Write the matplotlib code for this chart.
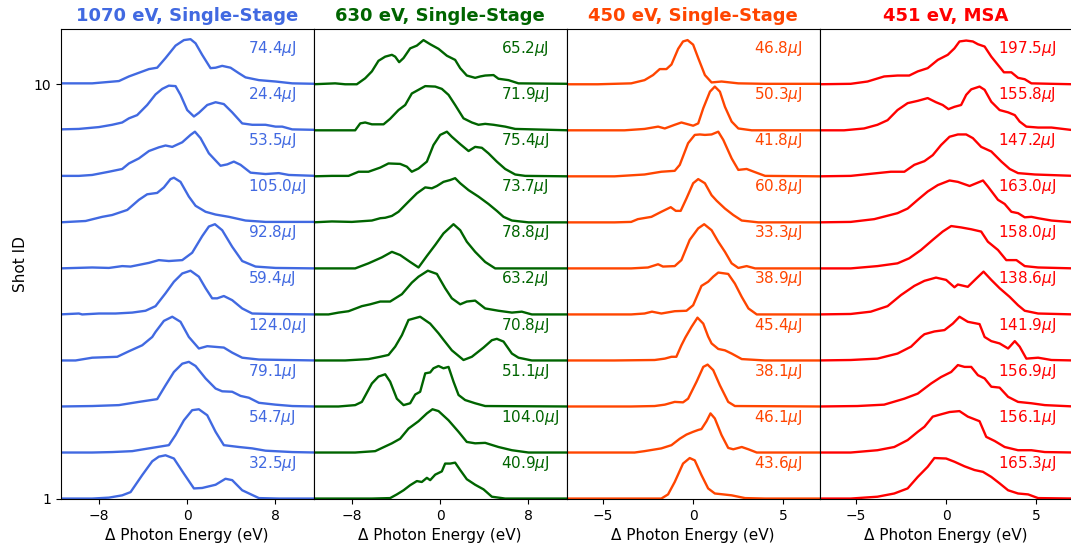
import matplotlib
matplotlib.use("Agg")
import matplotlib.pyplot as plt
import matplotlib.transforms as mtransforms

titles = ["1070 eV, Single-Stage", "630 eV, Single-Stage", "450 eV, Single-Stage", "451 eV, MSA"]
colors = ["royalblue", "darkgreen", "orangered", "red"]
x_limits = [(-11.5, 11.5), (-11.5, 11.5), (-7.0, 7.0), (-7.0, 7.0)]
x_ticks = [[-8, 0, 8], [-8, 0, 8], [-5, 0, 5], [-5, 0, 5]]
shot_ids = [1, 2, 3, 4, 5, 6, 7, 8, 9, 10]

# Pulse energies in uJ, shot 1 -> shot 10
pulse_1070 = [32.5, 54.7, 79.1, 124.0, 59.4, 92.8, 105.0, 53.5, 24.4, 74.4]
pulse_630 = [40.9, 104.0, 51.1, 70.8, 63.2, 78.8, 73.7, 75.4, 71.9, 65.2]
pulse_450 = [43.6, 46.1, 38.1, 45.4, 38.9, 33.3, 60.8, 41.8, 50.3, 46.8]
pulse_451 = [165.3, 156.1, 156.9, 141.9, 138.6, 158.0, 163.0, 147.2, 155.8, 197.5]

# ---- 1070 eV single-stage spectra (photon energy offset in eV, normalised intensity) ----
energy_1070 = [
    [-11.6, -8.64, -7.12, -5.91, -5.15, -4.09, -3.18, -2.58, -1.97, -1.21, -0.30, 0.61, 1.36, 2.58, 3.48, 4.09, 5.00, 6.52, 8.33, 11.7],
    [-11.6, -8.64, -6.82, -5.00, -3.48, -1.67, -1.06, -0.30, 0.45, 1.06, 1.82, 2.58, 3.33, 4.70, 5.91, 7.12, 9.55, 11.7],
    [-11.6, -8.64, -6.21, -4.39, -2.73, -1.97, -1.21, -0.45, 0.15, 0.76, 1.67, 2.58, 3.18, 4.09, 4.85, 5.61, 6.52, 8.03, 9.55, 11.7],
    [-11.6, -10.15, -8.64, -6.36, -5.30, -4.09, -3.18, -2.88, -2.12, -1.36, -0.61, 0.15, 1.06, 1.82, 3.33, 4.09, 5.00, 6.52, 11.7],
    [-11.6, -9.85, -9.55, -8.03, -6.52, -5.00, -3.79, -2.88, -1.97, -1.21, -0.45, 0.30, 1.06, 1.67, 2.27, 2.73, 3.33, 4.09, 5.00, 5.91, 7.73, 11.7],
    [-11.6, -8.64, -7.12, -5.91, -5.15, -3.48, -2.58, -1.67, -0.45, 0.45, 1.36, 1.97, 2.52, 3.18, 4.09, 5.00, 6.21, 8.03, 11.7],
    [-11.6, -9.24, -7.73, -6.82, -5.45, -4.39, -3.64, -2.73, -2.12, -1.52, -1.21, -0.61, 0.15, 0.76, 1.67, 2.58, 3.79, 5.30, 7.12, 11.7],
    [-11.6, -9.85, -8.64, -7.12, -5.91, -5.30, -4.39, -3.48, -2.58, -1.97, -1.36, -0.45, 0.30, 0.70, 1.21, 1.97, 3.03, 3.64, 4.24, 4.85, 5.76, 7.12, 8.33, 9.24, 11.7],
    [-11.6, -9.85, -8.03, -6.82, -5.91, -5.30, -4.55, -3.64, -2.88, -2.27, -1.67, -1.06, -0.61, 0.00, 0.61, 1.06, 1.82, 2.58, 3.33, 4.09, 5.00, 5.91, 7.12, 8.03, 8.64, 9.55, 11.7],
    [-11.6, -8.64, -6.21, -5.30, -4.39, -3.48, -2.73, -1.97, -1.06, -0.30, 0.30, 0.76, 1.36, 2.12, 2.58, 3.18, 3.94, 4.70, 5.30, 6.52, 8.03, 9.55, 11.7],
]
intensity_1070 = [
    [0, 0, 0.02, 0.07, 0.14, 0.51, 0.81, 0.91, 0.94, 0.87, 0.54, 0.22, 0.23, 0.30, 0.43, 0.40, 0.18, 0.01, 0, 0],
    [0, 0, 0.01, 0.03, 0.09, 0.16, 0.38, 0.70, 0.92, 0.94, 0.81, 0.45, 0.16, 0.12, 0.09, 0.04, 0.01, 0],
    [0, 0.01, 0.03, 0.10, 0.16, 0.46, 0.75, 0.93, 0.97, 0.88, 0.61, 0.39, 0.33, 0.32, 0.23, 0.19, 0.08, 0.04, 0.01, 0],
    [0, 0, 0.06, 0.08, 0.20, 0.33, 0.51, 0.62, 0.86, 0.95, 0.84, 0.51, 0.26, 0.31, 0.28, 0.17, 0.06, 0.02, 0],
    [0, 0.02, 0, 0.02, 0.02, 0.04, 0.08, 0.18, 0.46, 0.71, 0.89, 0.95, 0.82, 0.57, 0.35, 0.35, 0.40, 0.31, 0.13, 0.02, 0.01, 0],
    [0, 0.02, 0.01, 0.05, 0.04, 0.12, 0.18, 0.16, 0.18, 0.34, 0.70, 0.91, 0.96, 0.83, 0.47, 0.16, 0.04, 0.01, 0],
    [0, 0.03, 0.12, 0.16, 0.27, 0.49, 0.61, 0.64, 0.76, 0.94, 0.97, 0.88, 0.56, 0.36, 0.23, 0.17, 0.12, 0.04, 0.01, 0.01],
    [0.01, 0.01, 0.03, 0.10, 0.16, 0.28, 0.39, 0.55, 0.63, 0.67, 0.64, 0.74, 0.90, 0.97, 0.83, 0.50, 0.23, 0.26, 0.32, 0.25, 0.08, 0.05, 0.07, 0.03, 0.01],
    [0.02, 0.03, 0.07, 0.12, 0.17, 0.26, 0.33, 0.55, 0.78, 0.90, 0.97, 0.96, 0.77, 0.44, 0.30, 0.38, 0.55, 0.61, 0.57, 0.39, 0.15, 0.12, 0.12, 0.08, 0.08, 0.02, 0.01],
    [0.02, 0.02, 0.07, 0.17, 0.25, 0.33, 0.36, 0.57, 0.84, 0.96, 0.98, 0.89, 0.64, 0.35, 0.36, 0.40, 0.36, 0.24, 0.15, 0.09, 0.06, 0.02, 0.01],
]

# ---- 630 eV single-stage spectra ----
energy_630 = [
    [-11.6, -8.03, -6.21, -4.55, -3.94, -3.33, -2.73, -2.12, -1.67, -1.21, -0.91, -0.45, 0.15, 0.45, 0.91, 1.36, 1.82, 2.42, 3.18, 3.94, 4.70, 5.91, 11.7],
    [-11.6, -7.73, -5.91, -4.39, -3.64, -2.88, -1.97, -1.21, -0.70, -0.15, 0.76, 1.67, 2.42, 3.18, 4.09, 5.30, 6.52, 8.03, 11.7],
    [-11.6, -9.24, -7.73, -7.12, -6.21, -5.61, -5.00, -4.55, -3.94, -3.33, -2.73, -2.27, -1.82, -1.36, -0.91, -0.61, -0.15, 0.30, 0.76, 1.21, 1.67, 2.27, 3.18, 4.09, 11.7],
    [-11.6, -8.64, -6.52, -5.45, -4.70, -4.09, -3.48, -2.88, -1.82, -0.91, -0.15, 0.30, 1.06, 2.12, 2.88, 3.94, 4.70, 5.15, 5.76, 6.52, 7.12, 8.33, 11.7],
    [-11.6, -10.15, -9.24, -8.33, -7.12, -6.36, -5.45, -4.55, -3.48, -2.58, -1.97, -1.12, -0.30, 0.45, 1.06, 1.82, 2.42, 3.18, 4.09, 5.30, 6.52, 7.42, 8.33, 11.7],
    [-11.6, -9.24, -7.73, -6.52, -5.30, -4.39, -3.64, -2.73, -1.97, -1.21, -0.45, 0.30, 1.21, 1.82, 2.42, 3.18, 4.09, 5.00, 6.52, 11.7],
    [-11.6, -9.85, -8.03, -6.21, -5.45, -5.00, -4.39, -3.79, -2.88, -2.12, -1.36, -0.76, -0.30, 0.30, 0.91, 1.36, 1.82, 2.58, 3.48, 4.39, 5.15, 5.76, 6.52, 8.03, 11.7],
    [-11.6, -9.85, -8.33, -7.42, -6.52, -5.45, -4.70, -3.64, -3.03, -2.58, -1.97, -1.21, -0.61, 0.00, 0.61, 1.06, 1.82, 2.58, 3.18, 3.79, 4.39, 5.15, 5.91, 6.82, 7.73, 11.7],
    [-11.6, -7.73, -7.27, -6.82, -6.21, -5.15, -4.55, -3.79, -3.18, -2.58, -1.97, -1.36, -0.45, 0.15, 0.76, 1.36, 2.12, 2.88, 3.48, 4.09, 4.85, 5.91, 6.82, 11.7],
    [-11.6, -9.55, -8.64, -7.58, -6.82, -6.21, -5.61, -5.00, -4.39, -4.09, -3.73, -3.33, -2.73, -2.12, -1.52, -0.91, -0.15, 0.61, 1.36, 1.82, 2.42, 3.18, 3.64, 4.09, 4.85, 5.30, 6.21, 7.12, 11.7],
]
intensity_630 = [
    [0, 0, 0, 0.01, 0.09, 0.18, 0.29, 0.38, 0.36, 0.45, 0.40, 0.52, 0.59, 0.76, 0.76, 0.78, 0.62, 0.42, 0.30, 0.20, 0.04, 0, 0],
    [0, 0, 0.03, 0.20, 0.30, 0.52, 0.68, 0.85, 0.94, 0.90, 0.70, 0.45, 0.23, 0.20, 0.21, 0.12, 0.05, 0, 0],
    [0, 0, 0.03, 0.10, 0.50, 0.65, 0.70, 0.54, 0.17, 0.03, 0.07, 0.26, 0.32, 0.72, 0.74, 0.83, 0.88, 0.83, 0.86, 0.54, 0.25, 0.14, 0.07, 0.01, 0],
    [0, 0, 0.03, 0.08, 0.12, 0.30, 0.55, 0.88, 0.95, 0.80, 0.59, 0.45, 0.22, 0.01, 0.08, 0.28, 0.44, 0.47, 0.41, 0.15, 0.06, 0, 0],
    [0, 0, 0.04, 0.07, 0.18, 0.22, 0.28, 0.28, 0.44, 0.69, 0.82, 0.95, 0.88, 0.57, 0.35, 0.22, 0.28, 0.30, 0.13, 0.08, 0.04, 0.06, 0, 0],
    [0, 0, 0, 0.11, 0.24, 0.36, 0.29, 0.14, 0.02, 0.27, 0.51, 0.76, 0.96, 0.83, 0.58, 0.36, 0.14, 0, 0, 0],
    [0, 0.02, 0.01, 0.04, 0.09, 0.10, 0.14, 0.23, 0.45, 0.63, 0.76, 0.74, 0.79, 0.88, 0.92, 0.96, 0.85, 0.70, 0.56, 0.40, 0.25, 0.12, 0.04, 0, 0],
    [0, 0.01, 0.01, 0.10, 0.10, 0.19, 0.28, 0.27, 0.21, 0.10, 0.17, 0.32, 0.68, 0.90, 0.97, 0.86, 0.70, 0.55, 0.64, 0.62, 0.50, 0.32, 0.16, 0.04, 0.01, 0],
    [0, 0, 0.15, 0.17, 0.13, 0.13, 0.25, 0.44, 0.55, 0.80, 0.88, 0.96, 0.95, 0.90, 0.77, 0.55, 0.26, 0.17, 0.12, 0.14, 0.12, 0.08, 0.03, 0],
    [0, 0.02, 0, 0, 0.13, 0.28, 0.51, 0.60, 0.64, 0.60, 0.48, 0.57, 0.78, 0.84, 0.96, 0.87, 0.77, 0.62, 0.53, 0.35, 0.19, 0.14, 0.17, 0.19, 0.20, 0.12, 0.09, 0.02, 0.01],
]

# ---- 450 eV single-stage spectra ----
energy_450 = [
    [-7.1, -3.43, -1.76, -1.39, -1.02, -0.56, -0.19, 0.09, 0.46, 0.83, 1.20, 1.67, 2.13, 2.87, 3.98, 7.1],
    [-7.1, -4.35, -3.24, -2.69, -1.76, -1.20, -0.74, -0.37, 0.00, 0.28, 0.46, 0.74, 0.96, 1.20, 1.57, 1.94, 2.22, 2.69, 3.06, 3.52, 7.1],
    [-7.1, -3.43, -2.13, -1.57, -1.02, -0.56, -0.28, 0.19, 0.56, 0.80, 1.11, 1.48, 1.94, 2.31, 7.1],
    [-7.1, -4.35, -2.13, -1.57, -1.20, -0.93, -0.65, -0.43, -0.09, 0.24, 0.56, 0.83, 1.02, 1.39, 1.76, 2.13, 2.69, 3.98, 7.1],
    [-7.1, -3.43, -2.69, -2.28, -1.76, -1.02, -0.37, 0.00, 0.46, 0.83, 1.11, 1.39, 1.94, 2.31, 2.69, 3.06, 3.52, 7.1],
    [-7.1, -3.43, -2.50, -1.94, -1.67, -1.02, -0.65, -0.19, 0.28, 0.61, 1.02, 1.39, 1.76, 2.13, 2.50, 2.96, 3.43, 7.1],
    [-7.1, -4.35, -3.43, -3.06, -2.31, -1.76, -1.24, -0.96, -0.69, -0.37, 0.00, 0.28, 0.65, 1.02, 1.30, 1.76, 2.22, 2.69, 3.61, 7.1],
    [-7.1, -4.35, -2.69, -1.76, -1.02, -0.74, -0.28, 0.09, 0.37, 0.65, 1.02, 1.39, 1.67, 2.13, 2.50, 2.96, 3.43, 3.98, 7.1],
    [-7.1, -3.80, -2.69, -1.94, -1.57, -1.02, -0.65, -0.28, 0.00, 0.28, 0.56, 0.93, 1.20, 1.48, 1.76, 2.13, 2.50, 3.24, 7.1],
    [-7.1, -5.28, -3.43, -2.69, -2.22, -1.85, -1.48, -1.20, -0.83, -0.56, -0.31, 0.00, 0.28, 0.65, 1.02, 1.57, 2.50, 3.98, 7.1],
]
intensity_450 = [
    [0, 0, 0, 0.09, 0.36, 0.76, 0.88, 0.83, 0.51, 0.22, 0.11, 0.09, 0.07, 0.01, 0, 0],
    [0, 0, 0, 0.03, 0.09, 0.16, 0.30, 0.39, 0.45, 0.49, 0.51, 0.68, 0.85, 0.74, 0.38, 0.10, 0.07, 0.12, 0.07, 0, 0],
    [0, 0, 0.01, 0.04, 0.10, 0.09, 0.17, 0.54, 0.86, 0.91, 0.79, 0.46, 0.10, 0.01, 0],
    [0, 0, 0.01, 0.04, 0.08, 0.08, 0.33, 0.50, 0.73, 0.93, 0.80, 0.52, 0.37, 0.25, 0.22, 0.15, 0.03, 0, 0],
    [0, 0, 0.02, 0.06, 0.02, 0.07, 0.08, 0.20, 0.62, 0.71, 0.82, 0.91, 0.88, 0.67, 0.38, 0.13, 0, 0],
    [0, 0, 0.02, 0.09, 0.04, 0.05, 0.18, 0.62, 0.87, 0.96, 0.83, 0.58, 0.36, 0.11, 0.01, 0.05, 0, 0],
    [0, 0, 0.01, 0.07, 0.12, 0.23, 0.33, 0.25, 0.25, 0.52, 0.85, 0.94, 0.85, 0.59, 0.47, 0.30, 0.16, 0.04, 0, 0],
    [0, 0, 0.04, 0.10, 0.12, 0.25, 0.72, 0.90, 0.91, 0.90, 0.91, 0.97, 0.79, 0.39, 0.14, 0.16, 0.09, 0.01, 0],
    [0, 0, 0.03, 0.08, 0.04, 0.12, 0.17, 0.13, 0.10, 0.15, 0.48, 0.84, 0.95, 0.84, 0.51, 0.19, 0.04, 0, 0],
    [0, 0, 0.02, 0.09, 0.20, 0.33, 0.33, 0.43, 0.77, 0.93, 0.96, 0.86, 0.57, 0.20, 0.04, 0.06, 0.02, 0.01, 0.01],
]

# ---- 451 eV MSA spectra ----
energy_451 = [
    [-7.1, -5.28, -3.80, -2.87, -2.13, -1.57, -1.02, -0.65, 0.00, 0.46, 1.02, 1.57, 2.04, 2.50, 2.96, 3.43, 3.98, 4.54, 5.09, 7.1],
    [-7.1, -5.28, -3.80, -2.87, -2.13, -1.57, -1.20, -0.74, -0.28, 0.19, 0.74, 1.20, 1.85, 2.22, 2.69, 3.24, 3.98, 4.72, 5.46, 7.1],
    [-7.1, -4.91, -3.43, -2.31, -1.57, -0.83, -0.28, 0.28, 0.65, 1.02, 1.39, 1.76, 2.13, 2.50, 2.96, 3.43, 3.98, 4.72, 5.46, 7.1],
    [-7.1, -5.28, -3.80, -2.69, -1.94, -1.39, -1.20, -0.65, -0.09, 0.37, 0.74, 1.20, 1.85, 2.13, 2.50, 2.96, 3.43, 3.80, 4.07, 4.44, 5.09, 5.83, 7.1],
    [-7.1, -5.28, -4.17, -3.24, -2.50, -1.76, -1.20, -0.56, 0.00, 0.46, 0.65, 1.20, 1.67, 2.07, 2.50, 2.96, 3.52, 3.98, 4.35, 5.09, 7.1],
    [-7.1, -5.28, -3.80, -2.69, -2.04, -1.39, -0.74, -0.19, 0.28, 0.83, 1.39, 1.94, 2.31, 2.87, 3.33, 3.89, 4.35, 5.09, 7.1],
    [-7.1, -5.28, -3.98, -2.69, -2.13, -1.57, -1.02, -0.46, 0.19, 0.65, 1.30, 1.67, 2.04, 2.31, 2.87, 3.24, 3.61, 3.98, 4.35, 4.72, 5.09, 5.83, 7.1],
    [-7.1, -5.28, -3.80, -3.06, -2.31, -1.76, -1.20, -0.74, -0.28, 0.19, 0.65, 1.11, 1.48, 1.94, 2.50, 3.06, 3.52, 3.98, 4.91, 7.1],
    [-7.1, -5.65, -4.54, -3.80, -3.24, -2.69, -2.13, -1.57, -1.02, -0.56, -0.19, 0.13, 0.46, 0.83, 1.11, 1.39, 1.85, 2.13, 2.50, 2.96, 3.43, 3.80, 4.07, 4.44, 5.09, 5.83, 7.1],
    [-7.1, -5.28, -4.35, -3.43, -2.69, -2.04, -1.57, -1.02, -0.46, 0.09, 0.46, 0.74, 1.11, 1.48, 1.76, 2.13, 2.50, 2.87, 3.20, 3.61, 3.98, 4.35, 4.72, 5.83, 7.1],
]
intensity_451 = [
    [0, 0, 0.04, 0.11, 0.22, 0.47, 0.69, 0.88, 0.87, 0.80, 0.70, 0.62, 0.58, 0.47, 0.33, 0.18, 0.11, 0.09, 0.01, 0],
    [0, 0, 0.05, 0.12, 0.27, 0.45, 0.56, 0.78, 0.83, 0.88, 0.90, 0.78, 0.68, 0.34, 0.25, 0.12, 0.05, 0.05, 0.01, 0],
    [0, 0.01, 0.04, 0.17, 0.28, 0.50, 0.64, 0.75, 0.90, 0.86, 0.86, 0.68, 0.61, 0.43, 0.41, 0.21, 0.10, 0.07, 0.03, 0],
    [0, 0.01, 0.04, 0.15, 0.30, 0.51, 0.57, 0.63, 0.66, 0.80, 0.95, 0.84, 0.79, 0.51, 0.42, 0.37, 0.26, 0.42, 0.30, 0.04, 0.06, 0.01, 0],
    [0, 0.01, 0.06, 0.18, 0.42, 0.62, 0.73, 0.80, 0.75, 0.59, 0.65, 0.60, 0.78, 0.93, 0.75, 0.57, 0.38, 0.20, 0.08, 0.02, 0],
    [0, 0, 0.05, 0.11, 0.22, 0.40, 0.62, 0.80, 0.92, 0.89, 0.85, 0.80, 0.58, 0.40, 0.18, 0.18, 0.05, 0.02, 0],
    [0, 0.01, 0.07, 0.20, 0.30, 0.49, 0.67, 0.81, 0.91, 0.88, 0.79, 0.85, 0.91, 0.78, 0.49, 0.40, 0.23, 0.20, 0.11, 0.12, 0.09, 0.04, 0],
    [0, 0.01, 0.07, 0.10, 0.10, 0.25, 0.33, 0.46, 0.68, 0.86, 0.91, 0.91, 0.83, 0.64, 0.54, 0.32, 0.16, 0.07, 0.04, 0.01],
    [0, 0, 0.04, 0.12, 0.22, 0.44, 0.59, 0.64, 0.70, 0.61, 0.55, 0.46, 0.51, 0.55, 0.77, 0.89, 0.95, 0.88, 0.62, 0.44, 0.39, 0.33, 0.19, 0.08, 0.06, 0.06, 0],
    [0, 0.01, 0.06, 0.17, 0.19, 0.19, 0.28, 0.35, 0.53, 0.64, 0.78, 0.93, 0.95, 0.93, 0.87, 0.82, 0.60, 0.42, 0.26, 0.26, 0.14, 0.11, 0.02, 0.01, 0],
]

energies = [energy_1070, energy_630, energy_450, energy_451]
intensities = [intensity_1070, intensity_630, intensity_450, intensity_451]
pulses = [pulse_1070, pulse_630, pulse_450, pulse_451]
label_x = [0.74, 0.74, 0.74, 0.705]

fig = plt.figure(figsize=(10.71, 5.5), dpi=100)
left, bottom, width, height = 0.0567, 0.0927, 0.2362, 0.8545

for k in range(4):
    ax = fig.add_axes([left + k * width, bottom, width, height])
    trans = mtransforms.blended_transform_factory(ax.transAxes, ax.transData)
    for shot, e, inten, p in zip(shot_ids, energies[k], intensities[k], pulses[k]):
        ax.plot(e, [shot + v for v in inten], color=colors[k], lw=1.7)
        ax.text(label_x[k], shot + 0.77, f"{p:.1f}$\\mu$J", transform=trans,
                color=colors[k], fontsize=11, ha="left", va="center")
    ax.set_xlim(*x_limits[k])
    ax.set_ylim(0.99, 11.2)
    ax.set_xticks(x_ticks[k])
    ax.tick_params(labelsize=10)
    ax.set_xlabel("\u0394 Photon Energy (eV)", fontsize=11)
    ax.set_title(titles[k], color=colors[k], fontsize=13, fontweight="bold")
    if k == 0:
        ax.set_yticks([1, 10])
        ax.set_ylabel("Shot ID", fontsize=11)
    else:
        ax.set_yticks([])

fig.savefig("out.png", dpi=100)
